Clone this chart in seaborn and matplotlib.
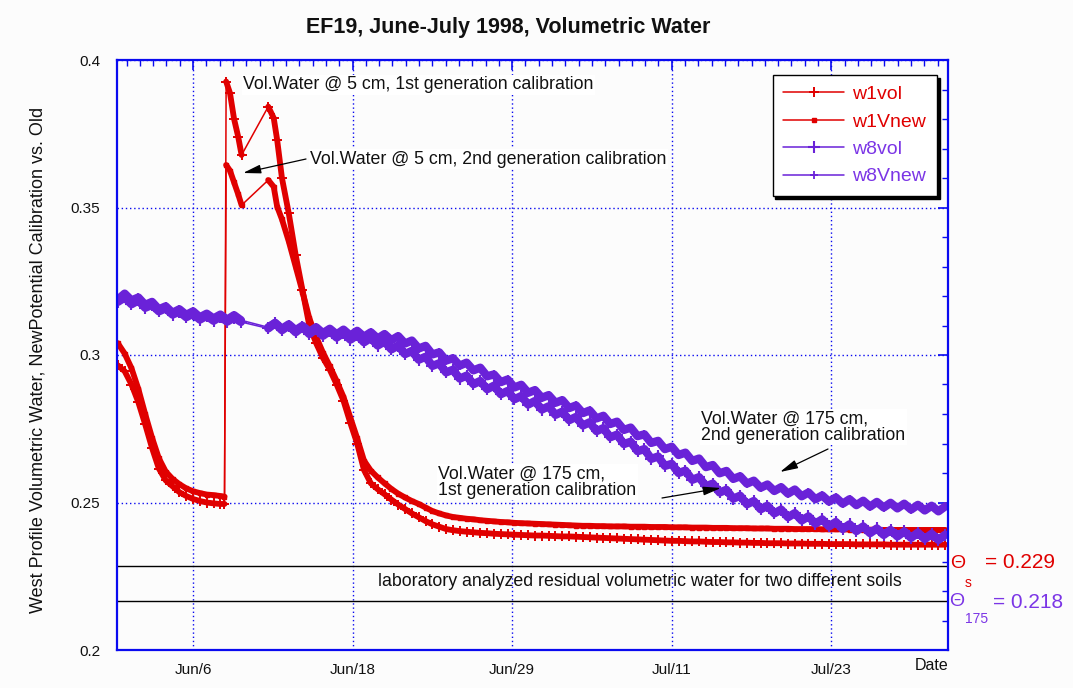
import numpy as np
import pandas as pd
import matplotlib
matplotlib.use("Agg")
import matplotlib.pyplot as plt
import seaborn as sns
from matplotlib.ticker import FixedLocator, AutoMinorLocator, MultipleLocator, FormatStrFormatter

sns.set_theme(style="white")
plt.rcParams["font.family"] = ["Liberation Sans", "DejaVu Sans"]

# ---------------- data (x = day of June 1998; 30.5 -> Jun 30 noon, 31 -> Jul 1) -------------
tick_labels = ["Jun/6", "Jun/18", "Jun/29", "Jul/11", "Jul/23"]
tick_days = [6.0, 17.6667, 29.3333, 41.0, 52.6667]

# red series (5 cm) sample times
days_w1 = np.concatenate([np.arange(0.5, 8.01, 0.5),
                          [8.3, 8.42, 8.7, 9.0, 9.3, 9.55, 11.5, 11.9, 12.15],
                          np.arange(12.5, 61.01, 0.5)])

w1vol = [0.2965, 0.2945, 0.2900, 0.2840, 0.2765, 0.2685, 0.2615, 0.2575, 0.2555, 0.2535,
         0.2522, 0.2512, 0.2505, 0.2500, 0.2497, 0.2495,
         0.2495, 0.3927, 0.3888, 0.3800, 0.3740, 0.3678, 0.3842, 0.3803, 0.3729,
         0.3600, 0.3480, 0.3340, 0.3220, 0.3100, 0.3040, 0.2990, 0.2950, 0.2900, 0.2845,
         0.2770, 0.2700, 0.2610, 0.2565, 0.2545, 0.2528, 0.2510, 0.2493, 0.2478, 0.2463,
         0.2450, 0.2437, 0.2426, 0.2418, 0.2410, 0.2406,
         0.2403, 0.2401, 0.2399, 0.2397, 0.2396, 0.2394, 0.2393, 0.2392, 0.2391, 0.2390,
         0.2389, 0.2388, 0.2388, 0.2387, 0.2386, 0.2385, 0.2385, 0.2384, 0.2383, 0.2382,
         0.2381, 0.2380, 0.2379, 0.2378, 0.2377, 0.2376, 0.2375, 0.2374, 0.2373, 0.2372,
         0.2371, 0.2370, 0.2370, 0.2369, 0.2368, 0.2368, 0.2367, 0.2366, 0.2366, 0.2365,
         0.2365, 0.2364, 0.2364, 0.2363, 0.2363, 0.2362, 0.2362, 0.2362, 0.2361, 0.2361,
         0.2361, 0.2360, 0.2360, 0.2360, 0.2359, 0.2359, 0.2359, 0.2359, 0.2358, 0.2358,
         0.2358, 0.2358, 0.2358, 0.2357, 0.2357, 0.2357, 0.2357, 0.2357, 0.2357, 0.2357,
         0.2357, 0.2357]

w1vnew = [0.3040, 0.3005, 0.2955, 0.2885, 0.2800, 0.2720, 0.2650, 0.2605, 0.2580, 0.2562,
          0.2548, 0.2538, 0.2532, 0.2527, 0.2525, 0.2522,
          0.2520, 0.3644, 0.3625, 0.3585, 0.3545, 0.3508, 0.3593, 0.3570, 0.3503,
          0.3460, 0.3385, 0.3300, 0.3215, 0.3125, 0.3062, 0.3008, 0.2962, 0.2912, 0.2858,
          0.2788, 0.2718, 0.2642, 0.2608, 0.2585, 0.2565, 0.2546, 0.2530, 0.2517, 0.2505,
          0.2495, 0.2483, 0.2471, 0.2463, 0.2456, 0.2451,
          0.2448, 0.2445, 0.2443, 0.2440, 0.2438, 0.2436, 0.2434, 0.2433, 0.2431, 0.2430,
          0.2429, 0.2428, 0.2427, 0.2426, 0.2425, 0.2424, 0.2423, 0.2422, 0.2421, 0.2421,
          0.2420, 0.2420, 0.2419, 0.2419, 0.2419, 0.2418, 0.2418, 0.2418, 0.2417, 0.2417,
          0.2417, 0.2416, 0.2416, 0.2416, 0.2415, 0.2415, 0.2415, 0.2414, 0.2414, 0.2414,
          0.2413, 0.2413, 0.2413, 0.2412, 0.2412, 0.2412, 0.2411, 0.2411, 0.2411, 0.2410,
          0.2410, 0.2410, 0.2410, 0.2409, 0.2409, 0.2409, 0.2409, 0.2408, 0.2408, 0.2408,
          0.2408, 0.2408, 0.2407, 0.2407, 0.2407, 0.2407, 0.2407, 0.2407, 0.2407, 0.2407,
          0.2407, 0.2407]

# purple series (175 cm) sample times
days_w8 = np.concatenate([np.arange(0.5, 9.51, 0.5), np.arange(11.5, 61.01, 0.5)])

w8vol = [0.3180, 0.3195, 0.3172, 0.3185, 0.3160, 0.3170, 0.3148, 0.3158, 0.3137, 0.3147,
         0.3128, 0.3140, 0.3120, 0.3133, 0.3116, 0.3130, 0.3113, 0.3127, 0.3112,
         0.3090, 0.3108, 0.3084, 0.3100, 0.3077, 0.3095, 0.3071, 0.3088, 0.3065, 0.3082,
         0.3059, 0.3076, 0.3052, 0.3068, 0.3043, 0.3058, 0.3032, 0.3046, 0.3019, 0.3032,
         0.3003, 0.3014, 0.2984, 0.2994, 0.2963, 0.2972, 0.2941, 0.2950, 0.2920, 0.2930,
         0.2901, 0.2912, 0.2884, 0.2896, 0.2867, 0.2878, 0.2850, 0.2861, 0.2832, 0.2844,
         0.2815, 0.2826, 0.2797, 0.2808, 0.2779, 0.2790, 0.2761, 0.2772, 0.2742, 0.2752,
         0.2721, 0.2730, 0.2698, 0.2706, 0.2674, 0.2681, 0.2648, 0.2656, 0.2624, 0.2631,
         0.2600, 0.2608, 0.2577, 0.2586, 0.2555, 0.2564, 0.2534, 0.2543, 0.2513, 0.2523,
         0.2494, 0.2505, 0.2477, 0.2489, 0.2463, 0.2476, 0.2450, 0.2464, 0.2439, 0.2453,
         0.2428, 0.2443, 0.2419, 0.2434, 0.2410, 0.2426, 0.2403, 0.2419, 0.2396, 0.2412,
         0.2390, 0.2407, 0.2385, 0.2402, 0.2380, 0.2398, 0.2376, 0.2394, 0.2373, 0.2391]

w8vnew = [0.3188, 0.3208, 0.3185, 0.3195, 0.3170, 0.3180, 0.3155, 0.3165, 0.3143, 0.3155,
          0.3136, 0.3148, 0.3128, 0.3140, 0.3124, 0.3137, 0.3120, 0.3135, 0.3118,
          0.3094, 0.3109, 0.3089, 0.3104, 0.3084, 0.3099, 0.3079, 0.3094, 0.3074, 0.3089,
          0.3070, 0.3086, 0.3066, 0.3082, 0.3062, 0.3077, 0.3056, 0.3071, 0.3050, 0.3064,
          0.3039, 0.3049, 0.3022, 0.3031, 0.3002, 0.3009, 0.2981, 0.2989, 0.2964, 0.2974,
          0.2948, 0.2957, 0.2928, 0.2934, 0.2908, 0.2917, 0.2890, 0.2899, 0.2872, 0.2881,
          0.2855, 0.2864, 0.2838, 0.2847, 0.2820, 0.2829, 0.2803, 0.2812, 0.2785, 0.2794,
          0.2766, 0.2774, 0.2746, 0.2754, 0.2725, 0.2731, 0.2702, 0.2709, 0.2681, 0.2689,
          0.2661, 0.2669, 0.2641, 0.2649, 0.2620, 0.2627, 0.2599, 0.2607, 0.2580, 0.2589,
          0.2564, 0.2574, 0.2550, 0.2561, 0.2539, 0.2552, 0.2530, 0.2544, 0.2521, 0.2534,
          0.2511, 0.2524, 0.2503, 0.2517, 0.2496, 0.2511, 0.2491, 0.2506, 0.2486, 0.2502,
          0.2483, 0.2499, 0.2480, 0.2496, 0.2476, 0.2492, 0.2473, 0.2489, 0.2470, 0.2487]

residual_values = [0.229, 0.218]
residual_line_y = [0.2286, 0.2166]

# ---------------- style ----------------
RED = "#E00000"
PURPLE = "#6A22D8"
PURPLE_TXT = "#7B35E6"
BLUE = "#0A0AF0"
BG = "#FCFCFC"

W, H = 1073, 688
fig = plt.figure(figsize=(W / 100, H / 100), dpi=100, facecolor=BG)
ax = fig.add_axes([117 / W, 1 - 650 / H, (948 - 117) / W, (650 - 60) / H])
ax.set_facecolor(BG)

# (name, times, values, colour, marker, marker size, marker edge width, band width, band segments)
red_segments = [(0.0, 8.31), (8.41, 9.56), (11.49, 62.0)]
purple_segments = [(0.0, 9.51), (11.49, 62.0)]
series = [
    ("w1vol", days_w1, w1vol, RED, "+", 7.5, 1.4, 4.2, red_segments),
    ("w1Vnew", days_w1, w1vnew, RED, "s", 3.0, 1.0, 4.2, red_segments),
    ("w8vol", days_w8, w8vol, PURPLE, "+", 8, 1.5, 6.0, purple_segments),
    ("w8Vnew", days_w8, w8vnew, PURPLE, "+", 6, 1.3, 6.0, purple_segments),
]
for name, xs, ys, col, mk, ms, mew, bw, segs in series:
    df = pd.DataFrame({"day": xs, "val": ys})
    # dense band of the frequent readings (continuous stretches only)
    for lo, hi in segs:
        part = df[(df["day"] >= lo) & (df["day"] <= hi)]
        sns.lineplot(data=part, x="day", y="val", ax=ax, color=col, linewidth=bw,
                     sort=False, estimator=None, legend=False)
    # readings with markers, thin line bridging gaps
    sns.lineplot(data=df, x="day", y="val", ax=ax, color=col, marker=mk, markersize=ms,
                 markeredgewidth=mew, markeredgecolor=col, markerfacecolor=col,
                 linewidth=1.1, sort=False, estimator=None, label=name)

# residual lines
for yv in residual_line_y:
    ax.axhline(yv, color="black", lw=1.0, zorder=1)

ax.set_xlim(0.44, 61.2)
ax.set_ylim(0.2, 0.4)
ax.xaxis.set_major_locator(FixedLocator(tick_days))
ax.set_xticklabels(tick_labels)
ax.xaxis.set_minor_locator(AutoMinorLocator(12))
ax.yaxis.set_major_locator(MultipleLocator(0.05))
ax.yaxis.set_minor_locator(MultipleLocator(0.01))
ax.yaxis.set_major_formatter(FormatStrFormatter("%g"))
ax.set_xlabel("")
ax.set_ylabel("")

ax.grid(True, which="major", color=BLUE, linestyle=(0, (1, 2)), linewidth=1.0)
ax.set_axisbelow(True)
for sp in ax.spines.values():
    sp.set_color(BLUE)
    sp.set_linewidth(1.6)
ax.tick_params(which="both", direction="in", top=True, right=True, color=BLUE,
               labelsize=11, labelcolor="#111111")
ax.tick_params(which="major", length=7, width=1.2)
ax.tick_params(axis="x", which="major", pad=9)
ax.tick_params(axis="y", which="major", pad=12)
ax.tick_params(which="minor", length=4, width=1.0)

# legend (only the marker-line handles carry labels)
handles, labels = ax.get_legend_handles_labels()
leg = ax.legend(handles, labels, loc="upper right",
                bbox_to_anchor=((937 - 117) / 831, (650 - 75) / 590),
                borderaxespad=0, fontsize=14, frameon=True, fancybox=False,
                shadow={"color": "black", "alpha": 1}, handlelength=3.1,
                labelspacing=0.5, borderpad=0.55, handletextpad=0.45,
                framealpha=1, facecolor="white", edgecolor="black")
leg.get_frame().set_linewidth(1.0)
for txt, s in zip(leg.get_texts(), series):
    txt.set_color(RED if s[3] == RED else PURPLE_TXT)

# helpers px -> data
def pdx(px):
    return 0.44 + (px - 117) / 831 * 60.76

def pdy(py):
    return 0.2 + (650 - py) / 2950

box = dict(facecolor="white", edgecolor="none", pad=1.0)
afs = 12.8
ax.text(pdx(243), pdy(85), "Vol.Water @ 5 cm, 1st generation calibration", fontsize=afs,
        ha="left", va="center", color="#111111", bbox=box)
ax.text(pdx(310), pdy(159), "Vol.Water @ 5 cm, 2nd generation calibration", fontsize=afs,
        ha="left", va="center", color="#111111", bbox=box)
ax.annotate("", xy=(pdx(243), pdy(173)), xytext=(pdx(306), pdy(159)),
            arrowprops=dict(arrowstyle="-|>,head_length=0.9,head_width=0.22", color="black",
                            lw=0.9, shrinkA=0, shrinkB=0))
ax.text(pdx(701), pdy(427), "Vol.Water @ 175 cm,\n2nd generation calibration", fontsize=afs,
        ha="left", va="center", color="#111111", linespacing=0.95, bbox=box)
ax.annotate("", xy=(pdx(780), pdy(472)), xytext=(pdx(828), pdy(449)),
            arrowprops=dict(arrowstyle="-|>,head_length=0.9,head_width=0.22", color="black",
                            lw=0.9, shrinkA=0, shrinkB=0))
ax.text(pdx(438), pdy(482), "Vol.Water @ 175 cm,\n1st generation calibration", fontsize=afs,
        ha="left", va="center", color="#111111", linespacing=0.95, bbox=box)
ax.annotate("", xy=(pdx(721), pdy(488)), xytext=(pdx(662), pdy(498)),
            arrowprops=dict(arrowstyle="-|>,head_length=0.9,head_width=0.22", color="black",
                            lw=0.9, shrinkA=0, shrinkB=0))
ax.text(pdx(378), pdy(581), "laboratory analyzed residual volumetric water for two different soils",
        fontsize=afs, ha="left", va="center", color="#111111")

# figure texts
def fx(px):
    return px / W

def fy(py):
    return 1 - py / H

fig.text(fx(508), fy(28), "EF19, June-July 1998, Volumetric Water", fontsize=15.5,
         fontweight="bold", ha="center", va="center", color="#111111",
         family=["Liberation Sans Narrow", "Liberation Sans", "DejaVu Sans"])
fig.text(fx(38), fy(360), "West Profile Volumetric Water, NewPotential Calibration vs. Old",
         rotation=90, fontsize=13, ha="center", va="center", color="#111111")
fig.text(fx(932), fy(665), "Date", fontsize=11.5, ha="center", va="center", color="#111111")

fig.text(fx(958), fy(563), "\u0398", fontsize=14, ha="center", va="center", color=RED)
fig.text(fx(968), fy(583), "s", fontsize=10, ha="center", va="center", color=RED)
fig.text(fx(985), fy(563), "= %.3f" % residual_values[0], fontsize=15, ha="left", va="center", color=RED)
fig.text(fx(957), fy(601), "\u0398", fontsize=14, ha="center", va="center", color=PURPLE_TXT)
fig.text(fx(977), fy(619), "175", fontsize=10, ha="center", va="center", color=PURPLE_TXT)
fig.text(fx(993), fy(602), "= %.3f" % residual_values[1], fontsize=15, ha="left", va="center", color=PURPLE_TXT)

fig.savefig("out.png", dpi=100, facecolor=BG)
